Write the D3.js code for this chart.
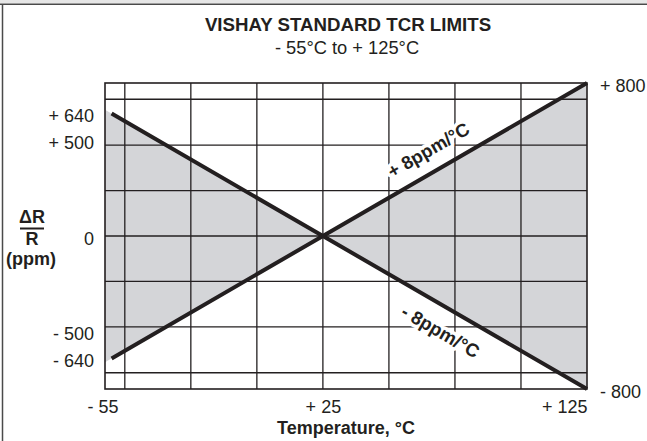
<!DOCTYPE html>
<html>
<head>
<meta charset="utf-8">
<script src="https://cdn.jsdelivr.net/npm/d3@7"></script>
<style>
  body { margin: 0; background: #fff; }
  svg { display: block; font-family: "Liberation Sans", Arial, Helvetica, sans-serif; }
  .tick text { font-size: 18px; fill: #231f20; }
</style>
</head>
<body>
<svg width="647" height="441"></svg>
<script>
// chart values
var temps = [-55, 25, 125];
var plusPpm = [-640, 0, 800];
var minusPpm = [640, 0, -800];
var xTicks = [-55, 25, 125];
var yTicksLeft = [640, 500, 0, -500, -640];
var yTicksRight = [800, -800];
var xGrid = [-50, -25, 0, 25, 50, 75, 100];
var yGrid = [-715, -475, -237, 0, 237, 475, 715];

var ink = "#231f20";
var svg = d3.select("svg"),
    margin = {top: 83, right: 60, bottom: 52, left: 105},
    width = +svg.attr("width") - margin.left - margin.right,
    height = +svg.attr("height") - margin.top - margin.bottom;

// frame of the page
svg.append("rect").attr("x", 0).attr("y", 0).attr("width", 647).attr("height", 3.5).attr("fill", "#e6e6e6");
svg.append("line").attr("x1", 0).attr("x2", 647).attr("y1", 4.2).attr("y2", 4.2)
    .attr("stroke", "#4a4a4a").attr("stroke-width", 1.5);
svg.append("line").attr("x1", 2.5).attr("x2", 2.5).attr("y1", 4).attr("y2", 441)
    .attr("stroke", "#4a4a4a").attr("stroke-width", 1.5);

// titles
svg.append("text").attr("x", 348).attr("y", 31).attr("text-anchor", "middle")
    .style("font-size", "18.7px").style("font-weight", "bold").attr("fill", ink)
    .text("VISHAY STANDARD TCR LIMITS");
svg.append("text").attr("x", 347).attr("y", 54).attr("text-anchor", "middle")
    .style("font-size", "18.3px").attr("fill", ink)
    .text("- 55°C to + 125°C");

var x = d3.scaleLinear().domain([-57.5, 125]).range([0, width]),
    y = d3.scaleLinear().domain([-800, 800]).range([height, 0]);

var g = svg.append("g")
    .attr("transform", "translate(" + margin.left + "," + margin.top + ")");

// shaded band between the limits, carried to the plot edges
var plusAt = d3.scaleLinear().domain(temps).range(plusPpm),
    minusAt = d3.scaleLinear().domain(temps).range(minusPpm);
var t0 = x.domain()[0];
var band = [
  [[t0, minusAt(t0)], [25, 0], [t0, plusAt(t0)]],
  [[25, 0], [125, plusAt(125)], [125, minusAt(125)]]
];
g.selectAll(".band")
  .data(band)
  .enter().append("path")
    .attr("class", "band")
    .attr("fill", "#d4d5d8")
    .attr("d", function(d) { return d3.line().x(function(p) { return x(p[0]); }).y(function(p) { return y(p[1]); })(d) + "Z"; });

// grid
g.selectAll(".vgrid")
  .data(xGrid)
  .enter().append("line")
    .attr("x1", function(d) { return x(d); }).attr("x2", function(d) { return x(d); })
    .attr("y1", 0).attr("y2", height)
    .attr("stroke", ink).attr("stroke-width", 1.3);
g.selectAll(".hgrid")
  .data(yGrid)
  .enter().append("line")
    .attr("y1", function(d) { return y(d); }).attr("y2", function(d) { return y(d); })
    .attr("x1", 0).attr("x2", width)
    .attr("stroke", ink).attr("stroke-width", 1.3);
g.append("rect").attr("width", width).attr("height", height)
    .attr("fill", "none").attr("stroke", ink).attr("stroke-width", 1.6);

// limit lines
var line = d3.line().x(function(d) { return x(d[0]); }).y(function(d) { return y(d[1]); });
[plusPpm, minusPpm].forEach(function(vals) {
  g.append("path")
    .datum(temps.map(function(t, i) { return [t, vals[i]]; }))
    .attr("fill", "none").attr("stroke", ink).attr("stroke-width", 4)
    .attr("d", line);
});

// line labels
var ang = Math.atan2(y(800) - y(0), x(125) - x(25)) * 180 / Math.PI;
function lineLabel(t, vals, rot, off, txt) {
  var v = d3.scaleLinear().domain(temps).range(vals)(t);
  g.append("text")
    .attr("transform", "translate(" + x(t) + "," + y(v) + ") rotate(" + rot + ")")
    .attr("y", off)
    .attr("text-anchor", "middle")
    .style("font-size", "18.5px").style("font-weight", "bold")
    .attr("fill", ink)
    .attr("stroke", "#fff").attr("stroke-width", 7).attr("stroke-linejoin", "round")
    .style("paint-order", "stroke")
    .text(txt);
}
lineLabel(69, plusPpm, ang, -15, "+ 8ppm/°C");
lineLabel(74, minusPpm, -ang, 30, "- 8ppm/°C");

// axes
function fmt(d) { return d > 0 ? "+ " + d : d < 0 ? "- " + (-d) : "0"; }

var xAxis = g.append("g")
    .attr("transform", "translate(0," + height + ")")
    .call(d3.axisBottom(x).tickValues(xTicks).tickSize(0).tickPadding(0).tickFormat(fmt));
xAxis.select(".domain").remove();
xAxis.selectAll("text").attr("dy", null).attr("y", 24)
    .attr("text-anchor", function(d, i) { return i === xTicks.length - 1 ? "end" : "middle"; })
    .attr("dx", function(d, i) { return i === 0 ? "-0.5em" : null; });

var yAxisL = g.append("g")
    .call(d3.axisLeft(y).tickValues(yTicksLeft).tickSize(0).tickPadding(11).tickFormat(fmt));
yAxisL.select(".domain").remove();
yAxisL.selectAll("text").attr("dy", "0.45em");

var yAxisR = g.append("g")
    .attr("transform", "translate(" + width + ",0)")
    .call(d3.axisRight(y).tickValues(yTicksRight).tickSize(0).tickPadding(13).tickFormat(fmt));
yAxisR.select(".domain").remove();
yAxisR.selectAll("text").attr("dy", "0.45em");

// axis titles
g.append("text").attr("x", width / 2).attr("y", height + 45).attr("text-anchor", "middle")
    .style("font-size", "18px").style("font-weight", "bold").attr("fill", ink)
    .text("Temperature, °C");

var yl = svg.append("g").attr("fill", ink).style("font-size", "18px").style("font-weight", "bold")
    .attr("text-anchor", "middle");
yl.append("text").attr("x", 32).attr("y", 223).text("ΔR");
yl.append("line").attr("x1", 20).attr("x2", 44).attr("y1", 228.5).attr("y2", 228.5)
    .attr("stroke", ink).attr("stroke-width", 2);
yl.append("text").attr("x", 32).attr("y", 245).text("R");
yl.append("text").attr("x", 31).attr("y", 265).text("(ppm)");
</script>
</body>
</html>
